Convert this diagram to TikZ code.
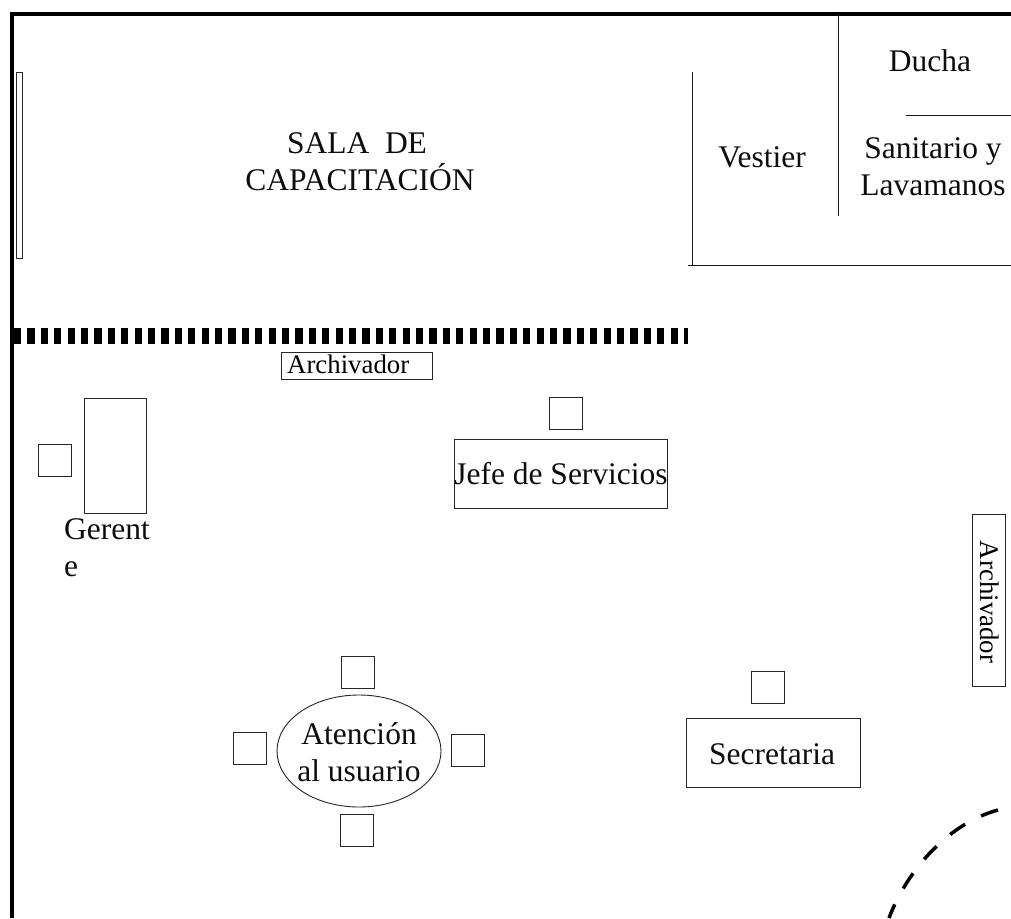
\documentclass[tikz,border=0pt]{standalone}
\usepackage{fontspec}
\setmainfont{Liberation Serif}
\usetikzlibrary{shapes.geometric}
\tikzset{
  x=1pt,y=-1pt,
  wall/.style={line width=4.2pt,black},
  thin wall/.style={line width=1pt,black!90},
  box/.style={draw=black!85,line width=0.9pt,fill=white,inner sep=0pt,outer sep=0pt},
  seat/.style={box,minimum width=33pt,minimum height=32pt},
  lbl/.style={font=\fontsize{31.5}{37}\selectfont,inner sep=0pt,align=center,text=black!95},
  smalllbl/.style={font=\fontsize{26.8}{30}\selectfont,inner sep=0pt}
}
\begin{document}
\begin{tikzpicture}
\useasboundingbox[fill=white] (0,0) rectangle (1011,918);
% outer walls
\coordinate (tr) at (1011,13.8);
\coordinate (tl) at (12,13.8);
\coordinate (bl) at (12,918);
\draw[wall,line join=miter] (tr) -- (tl) -- (bl);
% window
\node[box,minimum width=6.5pt,minimum height=186pt,anchor=north west] (window) at (16,72) {};
% partition
\coordinate (pa) at (14,336);
\coordinate (pb) at (688,336);
\draw[line width=16pt,black,dash pattern=on 7.2pt off 6.2pt] (pa) -- (pb);
% bath walls
\coordinate (v1a) at (692.5,72); \coordinate (v1b) at (692.5,265.5);
\coordinate (h1a) at (688,265.5); \coordinate (h1b) at (1011,265.5);
\coordinate (v2a) at (838.5,14); \coordinate (v2b) at (838.5,216);
\coordinate (h2a) at (906,115.5); \coordinate (h2b) at (1011,115.5);
\draw[thin wall] (v1a) -- (v1b);
\draw[thin wall] (h1a) -- (h1b);
\draw[thin wall] (v2a) -- (v2b);
\draw[thin wall] (h2a) -- (h2b);
% room labels
\node[lbl] (sala) at (360,161.5) {\hspace*{-6pt}SALA\ \ DE\\CAPACITACIÓN};
\node[lbl] (vestier) at (762,157) {Vestier};
\node[lbl] (ducha) at (930,61) {Ducha};
\node[lbl] (sanitario) at (933,167) {Sanitario y\\Lavamanos};
% archivador top
\node[box,minimum width=151pt,minimum height=27pt,anchor=north west] (arch1) at (281,352) {};
\node[smalllbl,anchor=west] (arch1t) at (287,364) {Archivador};
% gerente
\node[seat,anchor=north west] (gseat) at (38,444) {};
\node[box,minimum width=62pt,minimum height=115pt,anchor=north west] (gdesk) at (84.5,398) {};
\node[lbl,anchor=north west,align=left] (gerente) at (64,518) {Gerent\\e};
% jefe
\node[seat,anchor=north west] (jseat) at (549,397) {};
\node[box,minimum width=213pt,minimum height=69pt,anchor=north west] (jdesk) at (454,439) {};
\node[lbl] (jefe) at (561,474) {Jefe de Servicios};
% archivador right
\node[box,minimum width=33pt,minimum height=172pt,anchor=north west] (arch2) at (972,514) {};
\node[smalllbl,rotate=-90] (arch2t) at (990,602) {Archivador};
% atencion
\node[box,ellipse,minimum width=164pt,minimum height=112pt] (aten) at (359,751) {};
\node[lbl] (atent) at (359,752) {Atención\\al usuario};
\node[seat,anchor=north west] (s1) at (341,656) {};
\node[seat,anchor=north west] (s2) at (233,732) {};
\node[seat,anchor=north west] (s3) at (451,734) {};
\node[seat,anchor=north west] (s4) at (340,814) {};
% secretaria
\node[seat,anchor=north west] (sseat) at (751,671) {};
\node[box,minimum width=174pt,minimum height=69pt,anchor=north west] (sdesk) at (686,718) {};
\node[lbl] (secret) at (772,754) {Secretaria};
% door
\coordinate (d0) at (998,810);
\coordinate (d1) at (889,918);
\draw[line width=3.5pt,black,dash pattern=on 18pt off 18pt] (d0) .. controls (950,823) and (908,868) .. (d1);
\end{tikzpicture}
\end{document}
